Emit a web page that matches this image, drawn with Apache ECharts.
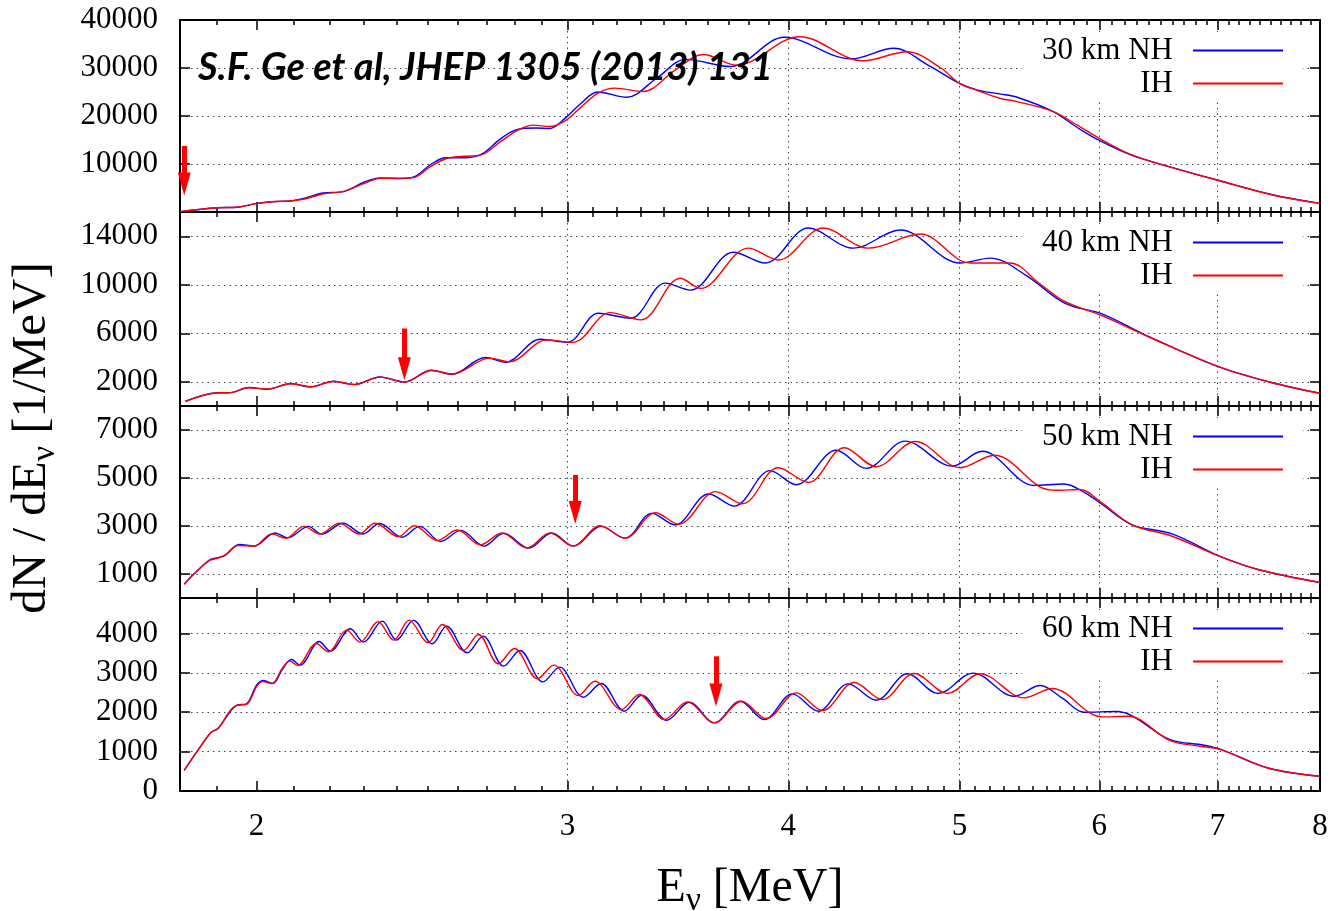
<!DOCTYPE html>
<html>
<head>
<meta charset="utf-8">
<script src="https://cdn.jsdelivr.net/npm/echarts@6/dist/echarts.min.js"></script>
<style>
  html, body { margin: 0; padding: 0; background: #fff; }
  #chart { width: 1332px; height: 911px; }
</style>
</head>
<body>
<div id="chart"></div>
<script>
// Reactor antineutrino spectra dN/dE vs. E for four baselines, normal vs. inverted hierarchy.

// x-axis ticks (MeV)
const energyMajor = [2, 3, 4, 5, 6, 7, 8];
const energyMinor = [1.9, 2.1, 2.2, 2.3, 2.4, 2.5, 2.6, 2.7, 2.8, 2.9,
  3.1, 3.2, 3.3, 3.4, 3.5, 3.6, 3.7, 3.8, 3.9,
  4.1, 4.2, 4.3, 4.4, 4.5, 4.6, 4.7, 4.8, 4.9,
  5.1, 5.2, 5.3, 5.4, 5.5, 5.6, 5.7, 5.8, 5.9,
  6.1, 6.2, 6.3, 6.4, 6.5, 6.6, 6.7, 6.8, 6.9,
  7.1, 7.2, 7.3, 7.4, 7.5, 7.6, 7.7, 7.8, 7.9];

// y-axis ticks per panel
const yTicks30 = [0, 10000, 20000, 30000, 40000];
const yLabels30 = [10000, 20000, 30000, 40000];
const yTicks40 = [2000, 6000, 10000, 14000];
const yTicks50 = [1000, 3000, 5000, 7000];
const yTicks60 = [0, 1000, 2000, 3000, 4000];

// legend names
const baselines = ['30 km NH', '40 km NH', '50 km NH', '60 km NH'];
const ihName = 'IH';

// spectra: [E (MeV), dN/dE (1/MeV)]
const nh30 = [[1.81, 80], [1.90, 900], [1.95, 1000], [2.00, 1800], [2.04, 2150], [2.09, 2300], [2.13, 2900],
  [2.18, 3950], [2.24, 4250], [2.30, 6200], [2.35, 7100], [2.41, 6950], [2.455, 7300], [2.51, 9900],
  [2.56, 11300], [2.62, 11300], [2.68, 12000], [2.75, 15300], [2.81, 17200], [2.88, 17500], [2.93, 17400],
  [2.99, 19500], [3.05, 22500], [3.12, 25000], [3.24, 23900], [3.37, 27900], [3.50, 31800], [3.71, 30300],
  [3.98, 36400], [4.34, 31900], [4.59, 34100], [4.81, 30400], [5.00, 26800], [5.12, 25400], [5.27, 24600],
  [5.39, 23900], [5.65, 20900], [5.83, 17600], [6.00, 14900], [6.25, 11900], [6.58, 9400], [7.02, 6500],
  [7.53, 3550], [8.0, 1800]];
const ih30 = [[1.81, 80], [1.90, 880], [1.95, 1000], [2.00, 1750], [2.04, 2150], [2.09, 2300], [2.13, 2700],
  [2.18, 3750], [2.24, 4300], [2.30, 5900], [2.35, 7000], [2.41, 7050], [2.455, 7200], [2.51, 9500],
  [2.56, 11100], [2.62, 11600], [2.68, 11900], [2.75, 14700], [2.81, 17000], [2.87, 18100], [2.93, 17800],
  [2.99, 19000], [3.05, 21700], [3.12, 24700], [3.19, 25800], [3.31, 25100], [3.45, 29500], [3.58, 32800],
  [3.74, 30600], [4.06, 36500], [4.41, 31500], [4.67, 33400], [4.88, 30000], [5.00, 26800], [5.12, 25300],
  [5.27, 23700], [5.39, 23000], [5.65, 20900], [5.83, 18100], [6.00, 15350], [6.25, 12000], [6.58, 9350],
  [7.02, 6500], [7.53, 3500], [8.0, 1800]];

const nh40 = [[1.823, 390], [1.895, 1074], [1.934, 1107], [1.98, 1520], [2.028, 1380], [2.091, 1850],
  [2.145, 1570], [2.211, 2040], [2.271, 1767], [2.349, 2396], [2.425, 1982], [2.512, 2950], [2.58, 2620],
  [2.695, 4000], [2.766, 3610], [2.896, 5500], [2.999, 5250], [3.123, 7650], [3.256, 7240], [3.408, 10130],
  [3.521, 9560], [3.724, 12680], [3.882, 11790], [4.106, 14680], [4.354, 13020], [4.629, 14510],
  [5.005, 11790], [5.205, 12200], [5.45, 10800], [5.739, 8460], [6.02, 7600], [6.41, 5680], [7.02, 3200],
  [7.50, 1960], [8.0, 1050]];
const ih40 = [[1.823, 390], [1.895, 1074], [1.934, 1107], [1.98, 1500], [2.028, 1400], [2.091, 1830],
  [2.145, 1590], [2.211, 2020], [2.271, 1780], [2.349, 2380], [2.425, 1982], [2.512, 2930], [2.58, 2640],
  [2.71, 3950], [2.78, 3650], [2.92, 5450], [3.02, 5250], [3.172, 7700], [3.30, 7100], [3.475, 10540],
  [3.567, 9700], [3.797, 13020], [3.948, 12040], [4.187, 14680], [4.44, 13020], [4.751, 14180],
  [5.071, 11790], [5.342, 11790], [5.55, 10100], [5.739, 8600], [6.02, 7450], [6.41, 5650], [7.02, 3200],
  [7.50, 1960], [8.0, 1050]];

const nh50 = [[1.82, 577], [1.845, 1028], [1.880, 1575], [1.898, 1670], [1.920, 1780], [1.956, 2231],
  [1.993, 2163], [2.049, 2710], [2.083, 2505], [2.140, 2983], [2.177, 2669], [2.239, 3117], [2.297, 2669],
  [2.348, 3104], [2.417, 2532], [2.474, 2983], [2.542, 2355], [2.610, 2819], [2.690, 2163], [2.760, 2696],
  [2.852, 2081], [2.939, 2710], [3.022, 2163], [3.134, 2983], [3.233, 2490], [3.348, 3527], [3.451, 3049],
  [3.606, 4333], [3.728, 3830], [3.907, 5307], [4.042, 4719], [4.258, 6154], [4.428, 5402], [4.658, 6536],
  [4.953, 5497], [5.150, 6113], [5.511, 4692], [5.731, 4747], [5.89, 4380], [6.022, 3896], [6.262, 3049],
  [6.597, 2669], [7.033, 1711], [7.397, 1165], [8.0, 645]];
const ih50 = [[1.82, 577], [1.845, 1028], [1.880, 1560], [1.898, 1640], [1.920, 1800], [1.951, 2190],
  [1.993, 2163], [2.040, 2670], [2.078, 2490], [2.127, 2983], [2.172, 2669], [2.228, 3117], [2.286, 2669],
  [2.334, 3117], [2.406, 2560], [2.457, 3010], [2.532, 2396], [2.598, 2833], [2.678, 2217], [2.754, 2710],
  [2.845, 2081], [2.932, 2710], [3.022, 2163], [3.129, 3010], [3.233, 2490], [3.364, 3554], [3.467, 3076],
  [3.639, 4432], [3.768, 3925], [3.948, 5430], [4.106, 4815], [4.303, 6263], [4.486, 5470], [4.721, 6522],
  [5.005, 5430], [5.231, 5949], [5.555, 4624], [5.68, 4490], [5.85, 4520], [6.022, 3950], [6.262, 3049],
  [6.597, 2573], [7.033, 1711], [7.397, 1165], [8.0, 645]];

const nh60 = [[1.82, 525], [1.85, 992], [1.885, 1492], [1.902, 1585], [1.933, 2025], [1.95, 2178],
  [1.974, 2212], [2.0, 2687], [2.018, 2805], [2.043, 2729], [2.068, 3085], [2.093, 3339], [2.117, 3195],
  [2.170, 3797], [2.202, 3551], [2.260, 4119], [2.299, 3780], [2.356, 4314], [2.400, 3831], [2.454, 4331],
  [2.515, 3737], [2.562, 4187], [2.632, 3509], [2.687, 3932], [2.760, 3170], [2.819, 3568], [2.905, 2771],
  [2.969, 3144], [3.062, 2381], [3.134, 2729], [3.230, 2026], [3.304, 2432], [3.414, 1797], [3.516, 2254],
  [3.633, 1729], [3.757, 2280], [3.877, 1814], [4.021, 2466], [4.160, 2026], [4.325, 2720], [4.486, 2305],
  [4.672, 2975], [4.863, 2475], [5.089, 2992], [5.370, 2407], [5.555, 2678], [5.72, 2350], [5.882, 2000],
  [6.133, 2017], [6.580, 1305], [6.878, 1161], [7.033, 1051], [7.475, 585], [8.0, 373]];
const ih60 = [[1.82, 525], [1.85, 992], [1.885, 1492], [1.902, 1585], [1.933, 2050], [1.95, 2178],
  [1.974, 2200], [2.0, 2650], [2.015, 2780], [2.04, 2729], [2.068, 3110], [2.088, 3297], [2.11, 3190],
  [2.162, 3746], [2.197, 3534], [2.249, 4085], [2.289, 3780], [2.343, 4297], [2.392, 3831], [2.440, 4339],
  [2.501, 3763], [2.548, 4229], [2.619, 3568], [2.671, 3975], [2.741, 3229], [2.799, 3619], [2.885, 2848],
  [2.946, 3195], [3.043, 2424], [3.108, 2788], [3.218, 2068], [3.294, 2449], [3.403, 1814], [3.507, 2263],
  [3.633, 1729], [3.763, 2280], [3.887, 1839], [4.042, 2492], [4.182, 2043], [4.359, 2754], [4.521, 2322],
  [4.714, 2983], [4.922, 2475], [5.137, 2975], [5.440, 2365], [5.642, 2601], [6.022, 1881], [6.229, 1898],
  [6.580, 1280], [6.842, 1136], [7.033, 1051], [7.475, 585], [8.0, 373]];

// red markers: energy, shaft top and arrow-head centre (1/MeV)
const arrowEnergy = [1.82, 2.425, 3.03, 3.64];
const arrowTop = [13750, 6390, 5130, 3420];
const arrowHead = [5830, 3070, 3560, 2440];

const FONT = 'Liberation Serif';
const panelTop = [20, 212, 406, 598];
const panelHeight = [192, 194, 192, 193];
const yMax = [40000, 16000, 8000, 4900];
const yTickSets = [yTicks30, yTicks40, yTicks50, yTicks60];
const yLabelSets = [yLabels30, yTicks40, yTicks50, yTicks60];
const nhSets = [nh30, nh40, nh50, nh60];
const ihSets = [ih30, ih40, ih50, ih60];

const frame = { lineStyle: { color: '#000', width: 2 } };
const gridDots = { show: true, lineStyle: { color: '#444', width: 1, type: [1.5, 4] } };
const X_MIN = 1.81, X_MAX = 8;

const grids = [], xAxes = [], yAxes = [], series = [], legends = [];

for (let i = 0; i < 4; i++) {
  // fixed panel boxes; labels and titles sit outside them
  grids.push({ left: 180, right: 12, top: panelTop[i], height: panelHeight[i],
    containLabel: false, outerBoundsMode: 'none' });

  const isLast = i === 3;
  // bottom: major ticks + labels + vertical grid
  xAxes.push({
    type: 'log', gridIndex: i, position: 'bottom', min: X_MIN, max: X_MAX,
    axisLine: frame,
    axisTick: { inside: true, length: 10, customValues: energyMajor, lineStyle: { color: '#000', width: 1.5 } },
    axisLabel: { show: isLast, customValues: energyMajor, margin: 20,
      fontFamily: FONT, fontSize: 31, color: '#000', formatter: v => String(v) },
    splitLine: Object.assign({}, gridDots, { showMinLine: false, showMaxLine: false }),
    name: isLast ? '{a|E}{b|ν}{a| [MeV]}' : '',
    nameLocation: 'middle', nameGap: 68,
    nameTextStyle: { rich: {
      a: { fontFamily: FONT, fontSize: 48, color: '#000', verticalAlign: 'middle' },
      b: { fontFamily: FONT, fontSize: 33, color: '#000', verticalAlign: 'middle', padding: [26, 0, 0, 0] }
    } }
  });
  // bottom: minor ticks
  xAxes.push({
    type: 'log', gridIndex: i, position: 'bottom', min: X_MIN, max: X_MAX,
    axisLine: { show: false },
    axisTick: { inside: true, length: 5, customValues: energyMinor, lineStyle: { color: '#000', width: 1.5 } },
    axisLabel: { show: false }, splitLine: { show: false }
  });
  // top mirror: major and minor ticks
  xAxes.push({
    type: 'log', gridIndex: i, position: 'top', min: X_MIN, max: X_MAX,
    axisLine: frame,
    axisTick: { inside: true, length: 10, customValues: energyMajor, lineStyle: { color: '#000', width: 1.5 } },
    axisLabel: { show: false }, splitLine: { show: false }
  });
  xAxes.push({
    type: 'log', gridIndex: i, position: 'top', min: X_MIN, max: X_MAX,
    axisLine: { show: false },
    axisTick: { inside: true, length: 5, customValues: energyMinor, lineStyle: { color: '#000', width: 1.5 } },
    axisLabel: { show: false }, splitLine: { show: false }
  });

  yAxes.push({
    type: 'value', gridIndex: i, position: 'left', min: 0, max: yMax[i],
    axisLine: frame,
    axisTick: { inside: true, length: 10, customValues: yTickSets[i], lineStyle: { color: '#000', width: 1.5 } },
    axisLabel: { customValues: yLabelSets[i], margin: 22, fontFamily: FONT, fontSize: 31, color: '#000',
      formatter: v => String(v) },
    splitLine: gridDots
  });
  yAxes.push({
    type: 'value', gridIndex: i, position: 'right', min: 0, max: yMax[i],
    axisLine: frame,
    axisTick: { inside: true, length: 10, customValues: yTickSets[i], lineStyle: { color: '#000', width: 1.5 } },
    axisLabel: { show: false }, splitLine: { show: false }
  });

  const lineCommon = {
    type: 'line', xAxisIndex: 4 * i, yAxisIndex: 2 * i,
    showSymbol: false, symbol: 'none', smooth: 0.35, silent: true, z: 3
  };
  series.push(Object.assign({}, lineCommon, {
    name: baselines[i], data: nhSets[i],
    color: '#0000ff', lineStyle: { color: '#0000ff', width: 1.4 },
    markLine: {
      silent: true, animation: false,
      symbol: ['none', 'triangle'], symbolSize: [13, 23],
      label: { show: false },
      lineStyle: { color: '#ff0000', width: 5, type: 'solid' },
      emphasis: { disabled: true },
      data: [[{ coord: [arrowEnergy[i], arrowTop[i]] }, { coord: [arrowEnergy[i], arrowHead[i]] }]]
    }
  }));
  series.push(Object.assign({}, lineCommon, {
    name: ihName, data: ihSets[i],
    color: '#ff0000', lineStyle: { color: '#ff0000', width: 1.4 }
  }));

  // key box: opaque over the grid, beneath the curves
  legends.push({
    z: 1, top: panelTop[i] + 12, right: 29, orient: 'vertical', align: 'right',
    data: [baselines[i], ihName], selectedMode: false,
    icon: 'rect', itemWidth: 90, itemHeight: 1.8, itemGap: 2,
    backgroundColor: '#fff', padding: [3, 20, 3, 20],
    textStyle: { fontFamily: FONT, fontSize: 31, color: '#000', lineHeight: 30, padding: [0, 15, 0, 0] }
  });
}

const chart = echarts.init(document.getElementById('chart'), null, { renderer: 'canvas' });
chart.setOption({
  animation: false,
  backgroundColor: '#fff',
  title: {
    text: 'S.F. Ge et al, JHEP 1305 (2013) 131',
    left: 198, top: 49, padding: 0,
    textStyle: { fontFamily: 'Lato', fontStyle: 'italic', fontWeight: 'bold', fontSize: 38, color: '#000' }
  },
  grid: grids,
  xAxis: xAxes,
  yAxis: yAxes,
  legend: legends,
  series: series,
  graphic: [{
    type: 'text', x: 32, y: 438, rotation: Math.PI / 2,
    style: {
      text: '{a|dN / dE}{b|ν}{a| [1/MeV]}',
      align: 'center', verticalAlign: 'middle',
      rich: {
        a: { fontFamily: FONT, fontSize: 49, fill: '#000', verticalAlign: 'middle' },
        b: { fontFamily: FONT, fontSize: 34, fill: '#000', verticalAlign: 'middle', padding: [26, 0, 0, 0] }
      }
    }
  }]
});
</script>
</body>
</html>
